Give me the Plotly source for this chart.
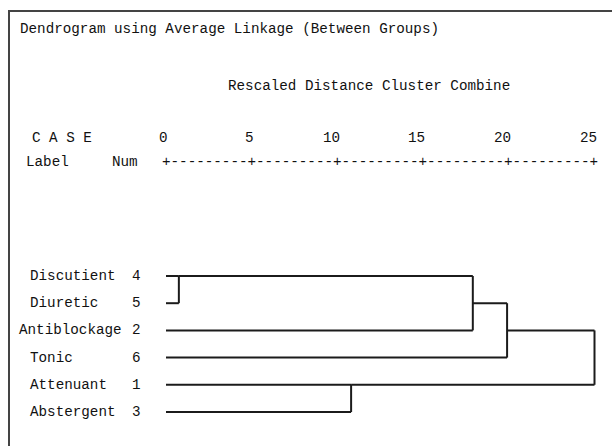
import math
import plotly.graph_objects as go

# ---- data ----
title_text = "Dendrogram using Average Linkage (Between Groups)"
axis_title = "Rescaled Distance Cluster Combine"
case_labels = ["Discutient", "Diuretic", "Antiblockage", "Tonic", "Attenuant", "Abstergent"]
case_nums = [4, 5, 2, 6, 1, 3]
tick_values = [0, 5, 10, 15, 20, 25]
tick_labels = ["0", "5", "10", "15", "20", "25"]
# merges: (cluster a, cluster b, rescaled distance); leaves are 0..5 in row order, new clusters 6..
merge_a = [0, 6, 7, 4, 8]
merge_b = [1, 2, 3, 5, 9]
merge_dist = [0.75, 17.9, 19.9, 10.8, 25.0]

# ---- layout geometry (pixels) ----
W, H = 612, 446
X0_PX, X25_PX = 166.0, 594.5
PX_PER_UNIT = (X25_PX - X0_PX) / 25.0
ROW0_PX, ROW_STEP = 276.0, 27.2
FONT = "Liberation Mono"
FS = 14.25
CHAR = FS * 0.6

xr = [-X0_PX / PX_PER_UNIT, (W - X0_PX) / PX_PER_UNIT]
yr = [(H - ROW0_PX) / ROW_STEP, -ROW0_PX / ROW_STEP]


def px2x(px):
    return (px - X0_PX) / PX_PER_UNIT


def py2y(py):
    return (py - ROW0_PX) / ROW_STEP


LINE = "#1b1b1b"

# build dendrogram segments
cl_y = {i: i for i in range(len(case_labels))}
cl_x = {i: 0.0 for i in range(len(case_labels))}
xs, ys = [], []
next_id = len(case_labels)
for a, b, d in zip(merge_a, merge_b, merge_dist):
    for c in (a, b):
        xs += [cl_x[c], d, None]
        ys += [cl_y[c], cl_y[c], None]
    xs += [d, d, None]
    ys += [cl_y[a], cl_y[b], None]
    cl_y[next_id] = math.floor((cl_y[a] + cl_y[b]) / 2)
    cl_x[next_id] = d
    next_id += 1

fig = go.Figure()
fig.add_trace(go.Scatter(x=xs, y=ys, mode="lines",
                         line=dict(color=LINE, width=2), hoverinfo="skip",
                         showlegend=False))

# frame (top + left border)
fig.add_trace(go.Scatter(x=[px2x(9), px2x(9), px2x(W + 5)],
                         y=[py2y(H + 5), py2y(11), py2y(11)],
                         mode="lines", line=dict(color="#444444", width=2),
                         hoverinfo="skip", showlegend=False))

ann = []


def text(x, y, s, anchor="left", yanchor="middle"):
    ann.append(dict(x=x, y=y, xref="x", yref="y", text=s, showarrow=False,
                    xanchor=anchor, yanchor=yanchor,
                    font=dict(family=FONT, size=FS, color="#111111")))


text(px2x(18), py2y(29), title_text)
text(px2x(226), py2y(86), axis_title)
text(px2x(30), py2y(138), "C A S E")
for v, lab in zip(tick_values, tick_labels):
    ann.append(dict(x=v + (CHAR / 2) / PX_PER_UNIT, y=py2y(138), xref="x", yref="y",
                    text=lab, showarrow=False, xanchor="right", yanchor="middle",
                    font=dict(family=FONT, size=FS, color="#111111")))
text(px2x(24), py2y(162), "Label")
text(px2x(140), py2y(162), "Num", anchor="right")
ruler = "+" + "+".join(["-" * 9] * 5) + "+"
text(12.5, py2y(162), ruler, anchor="center")

for i, (lab, n) in enumerate(zip(case_labels, case_nums)):
    left_px = min(28.0, 120.0 - len(lab) * CHAR)
    text(px2x(left_px), i, lab)
    text(px2x(136), i, str(n), anchor="center")

fig.update_layout(
    width=W, height=H,
    margin=dict(l=0, r=0, t=0, b=0),
    paper_bgcolor="white", plot_bgcolor="white",
    xaxis=dict(range=xr, visible=False, fixedrange=True),
    yaxis=dict(range=yr, visible=False, fixedrange=True),
    annotations=ann,
    showlegend=False,
)
fig.write_html("out.html", config={"displayModeBar": False},
               post_script="document.body.style.margin='0';document.body.style.overflow='hidden';")
